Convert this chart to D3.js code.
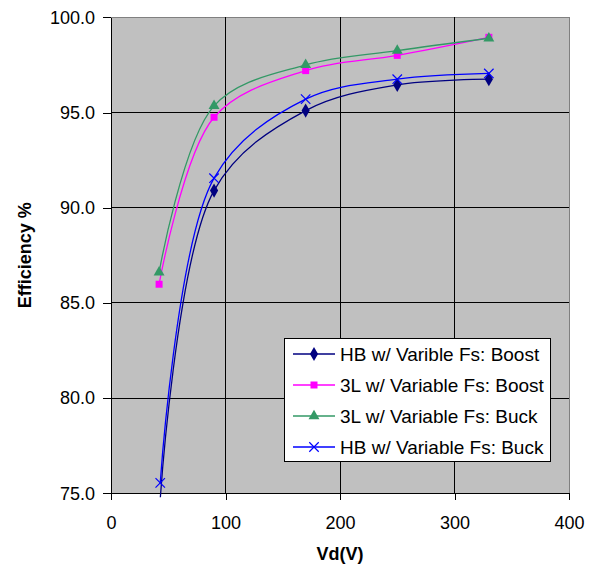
<!DOCTYPE html>
<html>
<head>
<meta charset="utf-8">
<script src="https://cdn.jsdelivr.net/npm/d3@7"></script>
<style>
  html, body { margin: 0; padding: 0; background: #fff; }
  text { font-family: "Liberation Sans", Arial, sans-serif; }
</style>
</head>
<body>
<svg id="chart" width="595" height="567"></svg>
<script>
// ---- data ----
const vd3L = [42, 90, 170, 250, 330];
const vdHB = [43, 90, 170, 250, 330];
const hbBoost = [74.7, 90.9, 95.1, 96.45, 96.75];
const l3Boost = [85.98, 94.75, 97.2, 98.0, 98.95];
const l3Buck = [86.6, 95.35, 97.5, 98.25, 98.9];
const hbBuck = [75.55, 91.55, 95.7, 96.75, 97.05];
const seriesNames = ["HB w/ Varible Fs: Boost", "3L w/ Variable Fs: Boost", "3L w/ Variable Fs: Buck", "HB w/ Variable Fs: Buck"];
const xTicks = [0, 100, 200, 300, 400];
const yTicks = [75, 80, 85, 90, 95, 100];
const xTitle = "Vd(V)";
const yTitle = "Efficiency %";

const series = [
  { name: seriesNames[0], xs: vdHB, ys: hbBoost, color: "#000080", sym: "diamond" },
  { name: seriesNames[1], xs: vd3L, ys: l3Boost, color: "#FF00FF", sym: "square" },
  { name: seriesNames[2], xs: vd3L, ys: l3Buck, color: "#339966", sym: "triangle" },
  { name: seriesNames[3], xs: vdHB, ys: hbBuck, color: "#0000FF", sym: "x" }
];

const svg = d3.select("#chart");
const x = d3.scaleLinear().domain([0, 400]).range([111, 569]);
const y = d3.scaleLinear().domain([75, 100]).range([493.3, 17.3]);

// plot area
svg.append("rect")
  .attr("x", x(0)).attr("y", y(100))
  .attr("width", x(400) - x(0)).attr("height", y(75) - y(100))
  .attr("fill", "#C0C0C0").attr("stroke", "#808080").attr("stroke-width", 1)
  .attr("shape-rendering", "crispEdges");

// gridlines
const grid = svg.append("g").attr("shape-rendering", "crispEdges");
grid.selectAll("line.h").data(yTicks.filter(d => d > 75 && d < 100)).join("line")
  .attr("x1", x(0)).attr("x2", x(400))
  .attr("y1", d => y(d)).attr("y2", d => y(d))
  .attr("stroke", "#000").attr("stroke-width", 1);
grid.selectAll("line.v").data(xTicks.filter(d => d > 0 && d < 400)).join("line")
  .attr("y1", y(100)).attr("y2", y(75))
  .attr("x1", d => x(d)).attr("x2", d => x(d))
  .attr("stroke", "#000").attr("stroke-width", 1);

// axes
const yAxis = svg.append("g").attr("transform", `translate(${x(0)},0)`)
  .call(d3.axisLeft(y).tickValues(yTicks).tickSize(8).tickSizeOuter(0).tickPadding(8).tickFormat(d3.format(".1f")));
const xAxis = svg.append("g").attr("transform", `translate(0,${y(75)})`)
  .call(d3.axisBottom(x).tickValues(xTicks).tickSize(7).tickSizeOuter(0).tickPadding(16).tickFormat(d3.format("d")));
[yAxis, xAxis].forEach(a => {
  a.attr("shape-rendering", "crispEdges");
  a.selectAll("path,line").attr("stroke", "#000").attr("stroke-width", 1);
  a.selectAll("text").attr("font-size", 18).attr("fill", "#000")
    .style("font-family", "'Liberation Sans', Arial, sans-serif");
});

// titles
svg.append("text").attr("x", (x(0) + x(400)) / 2).attr("y", 560)
  .attr("text-anchor", "middle").attr("font-size", 18).attr("font-weight", "bold").text(xTitle);
svg.append("text").attr("transform", `translate(31,${(y(75) + y(100)) / 2}) rotate(-90)`)
  .attr("text-anchor", "middle").attr("font-size", 18).attr("font-weight", "bold").text(yTitle);

// clip
svg.append("clipPath").attr("id", "clip").append("rect")
  .attr("x", x(0)).attr("y", y(100)).attr("width", x(400) - x(0)).attr("height", y(75) - y(100) + 4);

const symMap = {
  diamond: d3.symbol().type(d3.symbolDiamond).size(58),
  square: d3.symbol().type(d3.symbolSquare).size(49),
  triangle: d3.symbol().type(d3.symbolTriangle).size(52),
  x: d3.symbol().type(d3.symbolX).size(60)
};
function drawMarker(g, s) {
  const p = g.append("path").attr("d", symMap[s.sym]());
  if (s.sym === "x") p.attr("fill", "none").attr("stroke", s.color).attr("stroke-width", 1.2);
  else p.attr("fill", s.color).attr("stroke", "none");
  return p;
}

const line = d3.line().x(d => x(d[0])).y(d => y(d[1])).curve(d3.curveCatmullRom.alpha(0.5));
const plotG = svg.append("g").attr("clip-path", "url(#clip)");
series.forEach(s => {
  const pts = s.xs.map((v, i) => [v, s.ys[i]]);
  plotG.append("path").datum(pts).attr("d", line)
    .attr("fill", "none").attr("stroke", s.color).attr("stroke-width", 1.3);
});
series.forEach(s => {
  const pts = s.xs.map((v, i) => [v, s.ys[i]]).filter(p => p[1] >= 75 && p[1] <= 100);
  pts.forEach(p => {
    const g = svg.append("g").attr("transform", `translate(${x(p[0])},${y(p[1])})`);
    drawMarker(g, s);
  });
});

// legend
const leg = svg.append("g");
leg.append("rect").attr("x", 284.5).attr("y", 338.5).attr("width", 266).attr("height", 123)
  .attr("fill", "#fff").attr("stroke", "#000").attr("stroke-width", 1);
const rowY = d3.scaleLinear().domain([0, 3]).range([354, 447]);
series.forEach((s, i) => {
  const cy = rowY(i);
  leg.append("line").attr("x1", 293).attr("x2", 335).attr("y1", cy).attr("y2", cy)
    .attr("stroke", s.color).attr("stroke-width", 1.3);
  const g = leg.append("g").attr("transform", `translate(314,${cy})`);
  drawMarker(g, s);
  leg.append("text").attr("x", 340).attr("y", cy).attr("dy", "0.36em")
    .attr("font-size", 19).attr("fill", "#000").text(s.name);
});
</script>
</body>
</html>
